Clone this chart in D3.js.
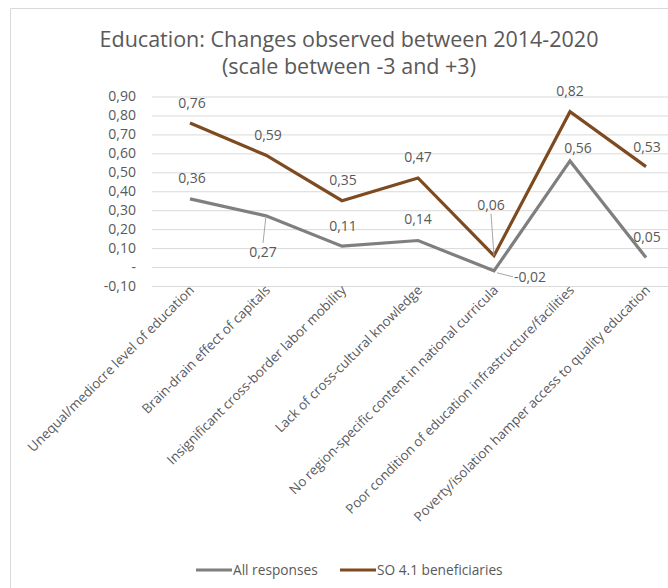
<!DOCTYPE html>
<html>
<head>
<meta charset="utf-8">
<script src="https://cdn.jsdelivr.net/npm/d3@7"></script>
<style>
  body { margin: 0; background: #fff; }
  svg { display: block; font-family: "Open Sans", sans-serif; }
</style>
</head>
<body>
<div id="chart"></div>
<script>
"use strict";

// categories on the x axis
var categories = [
    "Unequal/mediocre level of education",
    "Brain-drain effect of capitals",
    "Insignificant cross-border labor mobility",
    "Lack of cross-cultural knowledge",
    "No region-specific content in national curricula",
    "Poor condition of education infrastructure/facilities",
    "Poverty/isolation hamper access to quality education"
];

// series values
var allResponses = [0.36, 0.27, 0.11, 0.14, -0.02, 0.56, 0.05];
var so41 = [0.76, 0.59, 0.35, 0.47, 0.06, 0.82, 0.53];

var seriesNames = ["All responses", "SO 4.1 beneficiaries"];

// y axis ticks
var yTicks = [-0.1, 0, 0.1, 0.2, 0.3, 0.4, 0.5, 0.6, 0.7, 0.8, 0.9];

var titleLines = ["Education: Changes observed between 2014-2020", "(scale between -3 and +3)"];

var width = 668, height = 588;
var textColor = "#595959";
var colors = ["#7f7f7f", "#7e4a1f"];

// label placement, offsets of the label centre from its point (layout only)
var labelOffsets = [
    [[2, -21], [-3, 36, true], [1, -20], [0, -21], [36, 6, true], [8, -13], [1, -20]],
    [[2, -20], [2, -20], [1, -21], [0, -21], [-3, -51, true], [0, -21], [1, -20]]
];

var svg = d3.select("#chart").append("svg")
    .attr("width", width)
    .attr("height", height);

svg.append("rect").attr("width", width).attr("height", height).attr("fill", "#fff");

// chart area border (cropped at right and bottom)
svg.append("path")
    .attr("d", "M10.5," + height + "V8.5H" + width)
    .attr("fill", "none")
    .attr("stroke", "#d9d9d9");

// title
svg.append("g").selectAll("text")
    .data(titleLines)
    .enter().append("text")
    .attr("x", 349)
    .attr("y", function (d, i) { return 47 + i * 27; })
    .attr("text-anchor", "middle")
    .attr("fill", textColor)
    .style("font-size", "21.5px")
    .text(function (d) { return d; });

var x = d3.scaleBand()
    .domain(categories)
    .range([152, 684]);

var y = d3.scaleLinear()
    .domain([-0.1, 0.9])
    .range([286, 96.5]);

var fmt = function (v) {
    if (Math.abs(v) < 1e-9) return "-";
    return d3.format(".2f")(v).replace("\u2212", "-").replace(".", ",");
};

// y axis with gridlines
var yAxis = svg.append("g")
    .attr("transform", "translate(152,0)")
    .call(d3.axisLeft(y).tickValues(yTicks).tickSize(-(684 - 152)).tickPadding(16).tickFormat(fmt));

yAxis.select(".domain").remove();
yAxis.selectAll(".tick line").attr("stroke", "#d9d9d9");
yAxis.selectAll(".tick text")
    .attr("fill", textColor)
    .style("font-size", "14px")
    .style("font-family", "Open Sans");

// x axis labels
var xAxis = svg.append("g")
    .attr("transform", "translate(0," + y(-0.1) + ")")
    .call(d3.axisBottom(x).tickSize(0).tickPadding(0));

xAxis.select(".domain").remove();
xAxis.selectAll(".tick text")
    .attr("fill", textColor)
    .attr("text-anchor", "end")
    .attr("dy", null)
    .attr("y", 0)
    .attr("transform", "translate(5,5) rotate(-45)")
    .style("font-size", "13.3px")
    .style("font-family", "Open Sans");

// lines
var series = [allResponses, so41];
var line = d3.line()
    .x(function (d, i) { return x(categories[i]) + x.bandwidth() / 2; })
    .y(function (d) { return y(d); });

svg.append("g").selectAll("path")
    .data(series)
    .enter().append("path")
    .attr("d", line)
    .attr("fill", "none")
    .attr("stroke", function (d, i) { return colors[i]; })
    .attr("stroke-width", 3.2)
    .attr("stroke-linejoin", "miter");

// data labels with leader lines
series.forEach(function (s, si) {
    var g = svg.append("g");
    s.forEach(function (v, i) {
        var px = x(categories[i]) + x.bandwidth() / 2;
        var py = y(v);
        var off = labelOffsets[si][i];
        var lx = px + off[0], ly = py + off[1];
        if (off[2]) {
            var ex, ey;
            if (Math.abs(off[0]) > Math.abs(off[1])) {
                ex = lx - 17; ey = ly;
            } else if (off[1] > 0) {
                ex = lx; ey = ly - 9;
            } else {
                ex = lx; ey = ly + 9;
            }
            g.append("line")
                .attr("x1", px + (off[0] > 20 ? 3 : 0)).attr("y1", py + (off[0] > 20 ? 2 : 0))
                .attr("x2", ex).attr("y2", ey)
                .attr("stroke", "#a6a6a6")
                .attr("stroke-width", 1);
        }
        g.append("text")
            .attr("x", lx)
            .attr("y", ly)
            .attr("dy", "0.35em")
            .attr("text-anchor", "middle")
            .attr("fill", textColor)
            .style("font-size", "14px")
            .text(fmt(v));
    });
});

// legend
var legendX = [196, 340];
var legend = svg.append("g").selectAll("g")
    .data(seriesNames)
    .enter().append("g")
    .attr("transform", function (d, i) { return "translate(" + legendX[i] + ",570)"; });

legend.append("line")
    .attr("x1", 0).attr("x2", 36)
    .attr("stroke", function (d, i) { return colors[i]; })
    .attr("stroke-width", 3.2);

legend.append("text")
    .attr("x", 37)
    .attr("dy", "0.35em")
    .attr("fill", textColor)
    .style("font-size", "13.7px")
    .text(function (d) { return d; });
</script>
</body>
</html>
